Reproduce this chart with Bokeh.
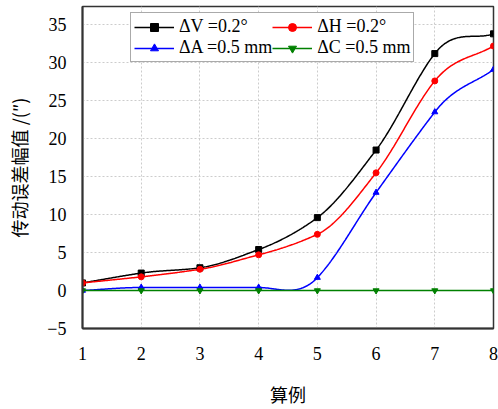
import numpy as np
from bokeh.plotting import figure
from bokeh.models import Legend, LegendItem, Range1d, FixedTicker
from bokeh.embed import file_html
from bokeh.resources import INLINE

cases = [1, 2, 3, 4, 5, 6, 7, 8]
dV = [1.0, 2.3, 3.0, 5.4, 9.6, 18.5, 31.2, 33.8]
dH = [1.0, 1.8, 2.8, 4.7, 7.4, 15.5, 27.6, 32.2]
dA = [0.0, 0.4, 0.4, 0.4, 1.7, 12.9, 23.5, 29.1]
dC = [0.0, 0.0, 0.0, 0.0, 0.0, 0.0, 0.0, 0.0]
labels = ["ΔV =0.2°", "ΔH =0.2°", "ΔA =0.5 mm", "ΔC =0.5 mm"]
colors = ["black", "red", "blue", "green"]
y_ticks = [-5, 0, 5, 10, 15, 20, 25, 30, 35]


def akima(x, y, n=400):
    x = np.asarray(x, float); y = np.asarray(y, float)
    m = np.diff(y) / np.diff(x)
    mm = np.concatenate([[3 * m[0] - 2 * m[1], 2 * m[0] - m[1]], m,
                         [2 * m[-1] - m[-2], 3 * m[-1] - 2 * m[-2]]])
    t = np.empty(len(x))
    for i in range(len(x)):
        w1 = abs(mm[i + 3] - mm[i + 2]); w2 = abs(mm[i + 1] - mm[i])
        if w1 + w2 == 0:
            t[i] = 0.5 * (mm[i + 1] + mm[i + 2])
        else:
            t[i] = (w1 * mm[i + 1] + w2 * mm[i + 2]) / (w1 + w2)
    t[0] = m[0]
    t[-1] = m[-1]
    xs = np.linspace(x[0], x[-1], n); ys = np.empty(n)
    for j, xv in enumerate(xs):
        i = min(np.searchsorted(x, xv, side="right") - 1, len(x) - 2)
        h = x[i + 1] - x[i]; s = (xv - x[i]) / h
        ys[j] = ((2 * s**3 - 3 * s**2 + 1) * y[i] + (s**3 - 2 * s**2 + s) * h * t[i]
                 + (-2 * s**3 + 3 * s**2) * y[i + 1] + (s**3 - s**2) * h * t[i + 1])
    return xs, ys


p = figure(width=498, height=409, output_backend="svg", toolbar_location=None,
           x_range=Range1d(1, 8), y_range=Range1d(-5, 37.4),
           min_border_left=82, min_border_right=5, min_border_top=6, min_border_bottom=72)

items = []
series = [dV, dH, dA, dC]
markers = ["square", "circle", "triangle", "inverted_triangle"]
for s, lab, col, mk in zip(series, labels, colors, markers):
    xs, ys = akima(cases, s)
    l = p.line(xs, ys, line_color=col, line_width=1.5)
    m = p.scatter(cases, s, marker=mk, size=6, color=col)
    items.append(LegendItem(label=lab, renderers=[l, m]))

legend = Legend(items=[items[0], items[2], items[1], items[3]], ncols=2,
                location=(48, 266), label_text_font="Liberation Serif",
                label_text_font_size="18px", label_text_color="black",
                border_line_color="#555555", border_line_width=1,
                glyph_width=40, glyph_height=20, label_standoff=5, label_height=20,
                spacing=0, padding=3, margin=0, background_fill_alpha=1)
p.add_layout(legend)

p.xaxis.ticker = FixedTicker(ticks=cases)
p.yaxis.ticker = FixedTicker(ticks=y_ticks)
for ax in (p.xaxis, p.yaxis):
    ax.major_label_text_font = "Liberation Serif"
    ax.major_label_text_font_size = "18px"
    ax.major_label_text_color = "black"
    ax.axis_line_color = "#333333"
    ax.axis_line_width = 2
    ax.major_tick_line_color = None
    ax.minor_tick_line_color = None
    ax.axis_label_text_font = "Noto Sans CJK SC"
    ax.axis_label_text_font_size = "18px"
    ax.axis_label_text_font_style = "normal"
    ax.axis_label_text_color = "black"
p.xaxis.axis_label = "算例"
p.yaxis.axis_label = "传动误差幅值 /(″)"
p.xaxis.axis_label_standoff = 18
p.yaxis.axis_label_standoff = 12
p.xaxis.major_label_standoff = 12
p.yaxis.major_label_standoff = 10

p.grid.grid_line_color = "#cccccc"
p.grid.grid_line_dash = "2 2"
p.outline_line_color = "#333333"
p.outline_line_width = 1.5
p.background_fill_color = "white"
p.border_fill_color = "white"

open("out.html", "w").write(file_html(p, INLINE))
